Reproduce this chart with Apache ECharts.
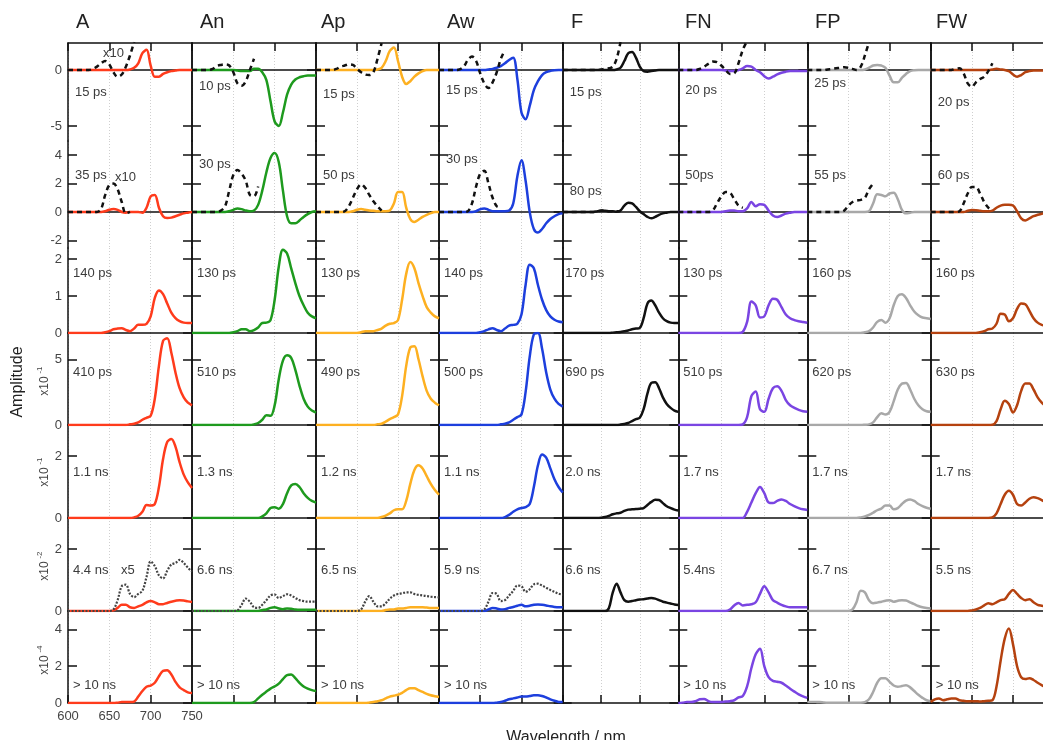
<!DOCTYPE html>
<html><head><meta charset="utf-8">
<script src="https://cdn.jsdelivr.net/npm/echarts@6/dist/echarts.min.js"></script>
<style>html,body{margin:0;padding:0;background:#fff}#c{width:1043px;height:740px}</style>
</head><body><div id="c"></div>
<script>
// ---------------- DATA ----------------
const wavelength = [600,605,610,615,620,625,630,635,640,645,650,655,660,665,670,675,680,685,690,695,700,705,710,715,720,725,730,735,740,745,750];
const panelNames = ['A','An','Ap','Aw','F','FN','FP','FW'];
const xTickLabels = ['600','650','700','750'];
const yTicks = [[-5,0],[-2,0,2,4],[0,1,2],[0,5],[0,2],[0,2],[0,2,4]];
const yScaleExp = [null,null,null,'-1','-1','-2','-4'];

const labelsA  = ['15 ps','35 ps','140 ps','410 ps','1.1 ns','4.4 ns','> 10 ns'];
const labelsAn = ['10 ps','30 ps','130 ps','510 ps','1.3 ns','6.6 ns','> 10 ns'];
const labelsAp = ['15 ps','50 ps','130 ps','490 ps','1.2 ns','6.5 ns','> 10 ns'];
const labelsAw = ['15 ps','30 ps','140 ps','500 ps','1.1 ns','5.9 ns','> 10 ns'];
const labelsF  = ['15 ps','80 ps','170 ps','690 ps','2.0 ns','6.6 ns',''];
const labelsFN = ['20 ps','50ps','130 ps','510 ps','1.7 ns','5.4ns','> 10 ns'];
const labelsFP = ['25 ps','55 ps','160 ps','620 ps','1.7 ns','6.7 ns','> 10 ns'];
const labelsFW = ['20 ps','60 ps','160 ps','630 ps','1.7 ns','5.5 ns','> 10 ns'];

const solidA = [
 [0,0,0,0,0,0,0,0,0,0,0,0,0,0,0,0.05,0.2,0.6,1.5,1.8,0.4,-0.6,-0.6,-0.35,-0.2,-0.1,-0.05,0,0,0,0],
 [0,0,0,0,0,0,0,0,0,0.05,0.15,0.2,0.15,0.0,-0.05,0,0,0,-0.05,0.3,1.1,1.2,0.3,-0.3,-0.42,-0.4,-0.3,-0.2,-0.1,-0.05,0],
 [0,0,0,0,0,0,0,0,0,0.02,0.05,0.1,0.12,0.13,0.08,0.05,0.12,0.22,0.22,0.25,0.45,0.95,1.15,1.05,0.8,0.55,0.4,0.32,0.28,0.27,0.27],
 [0,0,0,0,0,0,0,0,0,0,0,0,0,0,0,0.05,0.1,0.2,0.4,0.55,0.7,2.0,4.5,6.4,6.6,5.5,4.0,2.8,2.1,1.7,1.5],
 [0,0,0,0,0,0,0,0,0,0,0,0,0,0,0,0,0.02,0.07,0.2,0.42,0.4,0.45,1.0,1.9,2.45,2.55,2.3,1.8,1.4,1.15,0.97],
 [0,0,0,0,0,0,0,0,0,0,0,0.02,0.1,0.2,0.2,0.12,0.1,0.15,0.2,0.28,0.32,0.28,0.22,0.22,0.26,0.3,0.33,0.35,0.34,0.31,0.29],
 [0,0,0,0,0,0,0,0,0,0,0,0,0.02,0.05,0.05,0.05,0.08,0.35,0.65,0.88,0.95,1.1,1.45,1.75,1.78,1.55,1.15,0.85,0.7,0.58,0.54]
];
const solidAn = [
 [0,0,0,0,0,0,0,0,0,0,0,-0.05,-0.1,-0.1,-0.1,0.1,0.1,-0.2,-0.9,-2.8,-4.6,-5.0,-3.8,-2.2,-1.3,-0.85,-0.65,-0.55,-0.5,-0.5,-0.5],
 [0,0,0,0,0,0,0,0,0,0.05,0.15,0.25,0.2,0.1,0.05,0.1,0.5,1.5,2.8,3.8,4.15,3.5,1.5,-0.3,-0.8,-0.8,-0.6,-0.35,-0.15,0,0.05],
 [0,0,0,0,0,0,0,0,0,0,0.02,0.05,0.1,0.1,0.05,0.08,0.15,0.27,0.28,0.35,0.9,1.8,2.25,2.15,1.75,1.35,1.0,0.75,0.55,0.45,0.4],
 [0,0,0,0,0,0,0,0,0,0,0,0,0,0,0,0.05,0.15,0.4,0.75,0.7,1.5,3.5,4.9,5.3,5.1,4.2,3.0,2.0,1.4,1.1,0.95],
 [0,0,0,0,0,0,0,0,0,0,0,0,0,0,0,0,0,0.05,0.15,0.32,0.35,0.3,0.45,0.8,1.05,1.1,1.0,0.8,0.65,0.55,0.5],
 [0,0,0,0,0,0,0,0,0,0,0,0,0,0,0,0,0,0.03,0.05,0.1,0.12,0.08,0.06,0.08,0.07,0.05,0.04,0.04,0.04,0.04,0.04],
 [0,0,0,0,0,0,0,0,0,0,0,0,0,0,0,0.05,0.25,0.45,0.62,0.78,0.9,1.05,1.3,1.52,1.55,1.35,1.1,0.9,0.78,0.7,0.65]
];
const solidAp = [
 [0,0,0,0,0,0,0,0,0,0,0,0,0,0,0,0.05,0.2,0.8,1.7,2.0,0.8,-0.6,-1.25,-1.0,-0.6,-0.3,-0.1,0,0,0,0],
 [0,0,0,0,0,0,0,0,0,0.05,0.15,0.2,0.15,0.1,0.08,0.05,0.05,0.05,0.1,0.6,1.4,1.4,0.3,-0.5,-0.7,-0.55,-0.35,-0.2,-0.08,0,0],
 [0,0,0,0,0,0,0,0,0,0,0,0.02,0.05,0.05,0.05,0.08,0.12,0.2,0.25,0.27,0.35,0.9,1.6,1.92,1.75,1.35,1.0,0.7,0.55,0.45,0.4],
 [0,0,0,0,0,0,0,0,0,0,0,0,0,0,0,0.05,0.1,0.25,0.45,0.6,0.8,2.2,4.5,5.9,6.0,5.0,3.7,2.6,2.0,1.7,1.5],
 [0,0,0,0,0,0,0,0,0,0,0,0,0,0,0,0,0.03,0.08,0.15,0.25,0.28,0.28,0.55,1.1,1.55,1.7,1.6,1.35,1.1,0.9,0.75],
 [0,0,0,0,0,0,0,0,0,0,0,0,0,0,0,0,0,0.03,0.05,0.05,0.08,0.08,0.1,0.12,0.12,0.12,0.12,0.11,0.1,0.1,0.1],
 [0,0,0,0,0,0,0,0,0,0,0,0,0,0.02,0.05,0.1,0.15,0.25,0.35,0.4,0.45,0.55,0.7,0.8,0.8,0.7,0.6,0.5,0.42,0.37,0.33]
];
const solidAw = [
 [0,0,0,0,0,0,0,0,0,0,0,0,0.05,0.1,0.2,0.35,0.6,0.9,1.1,-0.8,-3.8,-4.4,-3.2,-1.8,-1.0,-0.45,-0.2,-0.08,-0.02,0,0],
 [0,0,0,0,0,0,0,0,0,0.05,0.2,0.25,0.15,0.05,0.05,0.05,0.05,0.1,0.6,2.5,3.65,2.2,0.0,-1.2,-1.45,-1.2,-0.8,-0.5,-0.3,-0.15,-0.1],
 [0,0,0,0,0,0,0,0,0,0,0.02,0.05,0.1,0.13,0.08,0.05,0.12,0.2,0.22,0.25,0.5,1.3,1.85,1.75,1.3,0.9,0.62,0.45,0.36,0.31,0.29],
 [0,0,0,0,0,0,0,0,0,0,0,0,0,0,0,0.05,0.1,0.2,0.4,0.6,0.8,2.5,5.2,6.9,7.0,5.8,4.0,2.7,2.0,1.6,1.4],
 [0,0,0,0,0,0,0,0,0,0,0,0,0,0,0,0,0.03,0.1,0.2,0.28,0.32,0.35,0.45,1.0,1.7,2.05,1.95,1.6,1.25,1.0,0.82],
 [0,0,0,0,0,0,0,0,0,0,0,0,0.05,0.1,0.08,0.05,0.06,0.1,0.13,0.17,0.2,0.15,0.17,0.2,0.21,0.2,0.18,0.15,0.13,0.12,0.12],
 [0,0,0,0,0,0,0,0,0,0,0,0,0,0,0.02,0.05,0.12,0.2,0.25,0.3,0.35,0.35,0.38,0.42,0.42,0.38,0.3,0.2,0.12,0.06,0.05]
];
const solidF = [
 [0,0,0,0,0,0,0,0,0,0,0,0,0,0,0.05,0.2,0.8,1.5,1.6,1.1,0.3,-0.1,-0.15,-0.1,-0.05,0,0,0,0,0,0],
 [0,0,0,0,0,0,0,0,0,0.05,0.08,0.08,0.05,0.05,0.02,0.1,0.45,0.65,0.6,0.35,0.05,-0.15,-0.35,-0.45,-0.35,-0.2,-0.1,-0.05,0,0,0],
 [0,0,0,0,0,0,0,0,0,0,0,0,0,0.01,0.02,0.03,0.05,0.07,0.1,0.12,0.14,0.4,0.8,0.88,0.75,0.55,0.4,0.32,0.28,0.27,0.27],
 [0,0,0,0,0,0,0,0,0,0,0,0,0,0,0,0.03,0.08,0.15,0.3,0.45,0.55,1.2,2.4,3.2,3.25,2.8,2.1,1.6,1.3,1.1,1.0],
 [0,0,0,0,0,0,0,0,0,0,0.01,0.03,0.07,0.12,0.15,0.17,0.23,0.27,0.28,0.29,0.3,0.32,0.42,0.52,0.59,0.58,0.48,0.38,0.32,0.27,0.24],
 [0,0,0,0,0,0,0,0,0,0,0,0,0.1,0.6,0.88,0.6,0.35,0.3,0.32,0.35,0.37,0.38,0.4,0.42,0.4,0.35,0.3,0.27,0.24,0.21,0.19],
 []
];
const solidFN = [
 [0,0,0,0,0,0,0,0,0,0,0,-0.05,-0.1,-0.1,0.0,0.15,0.35,0.3,0.0,-0.2,-0.55,-0.75,-0.6,-0.4,-0.25,-0.15,-0.1,-0.1,-0.1,-0.1,-0.1],
 [0,0,0,0,0,0,0,0,0,0,0,0.05,0.1,0.1,0.05,0.05,0.25,0.7,0.4,0.55,0.5,0.1,-0.25,-0.35,-0.25,-0.12,-0.05,0,0,0,0],
 [0,0,0,0,0,0,0,0,0,0,0,0,0,0,0,0.03,0.3,0.85,0.75,0.42,0.45,0.75,0.93,0.9,0.7,0.5,0.4,0.35,0.32,0.3,0.28],
 [0,0,0,0,0,0,0,0,0,0,0,0,0,0,0,0.05,0.6,2.2,2.55,1.2,1.0,2.0,2.8,2.95,2.6,1.9,1.5,1.3,1.15,1.05,1.0],
 [0,0,0,0,0,0,0,0,0,0,0,0,0,0,0,0,0.2,0.5,0.8,1.0,0.8,0.5,0.48,0.55,0.6,0.55,0.45,0.38,0.32,0.28,0.26],
 [0,0,0,0,0,0,0,0,0,0,0,0,0.05,0.18,0.26,0.18,0.2,0.22,0.28,0.55,0.8,0.6,0.35,0.27,0.2,0.15,0.12,0.12,0.12,0.12,0.12],
 [0,0.02,0.05,0.05,0.1,0.2,0.22,0.1,0.05,0.05,0.05,0.08,0.1,0.15,0.3,0.38,0.9,1.9,2.65,2.95,2.0,1.4,1.2,1.15,1.1,0.95,0.78,0.62,0.47,0.36,0.28]
];
const solidFP = [
 [0,0,0,0,0,0,0,0,0,0,0,0,0,0,0.05,0.2,0.4,0.45,0.4,0.2,-0.5,-1.1,-1.1,-0.7,-0.35,-0.1,-0.02,0,0,0,0],
 [0,0,0,0,0,0,0,0,0,0,0,0,0,0,0,0.05,0.6,1.25,1.2,1.1,1.3,1.35,0.9,0.15,-0.1,-0.05,0,0,0,0,0],
 [0,0,0,0,0,0,0,0,0,0,0,0,0,0,0.02,0.05,0.15,0.3,0.35,0.28,0.4,0.75,1.0,1.05,0.95,0.75,0.58,0.48,0.42,0.4,0.38],
 [0,0,0,0,0,0,0,0,0,0,0,0,0,0,0.02,0.05,0.2,0.6,0.9,0.8,1.0,1.8,2.7,3.15,3.2,2.7,2.0,1.5,1.2,1.05,1.0],
 [0,0,0,0,0,0,0,0,0,0,0,0,0,0.02,0.05,0.1,0.17,0.25,0.3,0.4,0.4,0.28,0.32,0.45,0.56,0.6,0.55,0.45,0.38,0.33,0.3],
 [0,0,0,0,0,0,0,0,0,0,0,0.05,0.3,0.65,0.6,0.35,0.25,0.27,0.3,0.33,0.35,0.3,0.33,0.35,0.34,0.28,0.22,0.16,0.12,0.1,0.08],
 [0.05,0.05,0.05,0.05,0.03,0.02,0.02,0.02,0.02,0.02,0.02,0.02,0.02,0.02,0.05,0.2,0.6,1.1,1.35,1.35,1.15,0.95,0.88,0.92,0.97,0.85,0.65,0.45,0.28,0.15,0.1]
];
const solidFW = [
 [0,0,0,0,0,0,0,0,0,0,0,0,0,0,0,0.05,0.1,0.05,0,-0.1,-0.4,-0.6,-0.45,-0.2,-0.1,-0.05,-0.05,-0.05,-0.05,-0.05,-0.05],
 [0,0,0,0,0,0,0,0,0,0.08,0.14,0.12,0.08,0.05,0.05,0.1,0.3,0.45,0.5,0.5,0.45,0.05,-0.45,-0.6,-0.45,-0.3,-0.2,-0.12,-0.08,-0.05,-0.03],
 [0,0,0,0,0,0,0,0,0,0,0,0,0.02,0.05,0.1,0.12,0.25,0.52,0.5,0.32,0.4,0.65,0.8,0.78,0.6,0.4,0.28,0.22,0.19,0.17,0.16],
 [0,0,0,0,0,0,0,0,0,0,0,0,0,0,0,0.02,0.3,1.2,1.85,1.6,0.95,1.5,2.6,3.15,3.15,2.7,2.1,1.7,1.45,1.3,1.2],
 [0,0,0,0,0,0,0,0,0,0,0,0,0,0,0,0.02,0.15,0.45,0.75,0.88,0.75,0.45,0.4,0.5,0.62,0.67,0.64,0.58,0.5,0.42,0.35],
 [0,0,0,0,0,0,0,0,0,0,0.02,0.05,0.1,0.18,0.25,0.22,0.28,0.35,0.38,0.55,0.68,0.55,0.42,0.35,0.38,0.28,0.2,0.17,0.15,0.12,0.1],
 [0.05,0.2,0.25,0.15,0.2,0.25,0.25,0.15,0.12,0.1,0.1,0.1,0.08,0.1,0.12,0.15,0.9,2.3,3.5,4.05,3.2,2.0,1.4,1.3,1.35,1.25,1.1,0.97,0.85,0.75,0.65]
];

// dashed (x10) early-time curves, rows 1 and 2 (start at 600 nm)
const dashA  = [[0,0,0,0,0,0,0.1,0.3,0.6,0.8,0.5,-0.2,-0.6,-0.4,0.3,1.3,2.5],
                [0,0,0,0,0,0,0,0,0.2,1.2,1.9,2.0,1.6,0.7,-0.1,0]];
const dashAn = [[0,0,0,0,0,0.1,0.35,0.45,0.5,0.4,-0.2,-1.2,-1.4,-1.0,0.0,1.0],
                [0,0,0,0,0,0,0,0.1,0.4,1.5,2.6,2.95,2.7,2.2,1.2,1.1,1.8]];
const dashAp = [[0,0,0,0,0,0.1,0.3,0.4,0.5,0.45,0.1,-0.2,-0.4,-0.45,-0.2,1.0,2.4],
                [0,0,0,0,0,0,0,0.05,0.4,1.0,1.6,1.95,1.7,1.2,0.75,0.4,0.1]];
const dashAw = [[0,0,0,0,0,0.05,0.3,0.9,1.2,0.8,-0.3,-1.2,-1.6,-1.1,-0.2,1.0,1.8],
                [0,0,0,0,0,0,0,0.05,0.6,1.8,2.7,2.9,2.0,1.0,0.4,0.3]];
const dashF  = [[0,0,0,0,0,0,0,0,0,0,0.05,0.1,0.15,0.3,1.0,2.5],
                [0,0,0,0,0,0,0,0,0,0.05,0.1,0.1,0.05,0.05,0.05,0.05]];
const dashFN = [[0,0,0,0,0,0.1,0.3,0.55,0.75,0.7,0.4,0.0,-0.35,-0.3,0.6,1.8,2.6],
                [0,0,0,0,0,0,0,0,0.1,0.6,1.1,1.4,1.35,0.9,0.45,0.3]];
const dashFP = [[0,0,0,0,0,0.05,0.1,0.15,0.2,0.25,0.2,0.1,0.0,0.3,1.3,2.5],
                [0,0,0,0,0,0,0,0,0,0.1,0.45,0.7,0.8,0.85,1.0,1.6,2.0]];
const dashFW = [[0,0,0,0,0,0,0.1,0.15,-0.3,-1.2,-1.5,-1.1,-0.8,-0.6,-0.1,0.6],
                [0,0,0,0,0,0,0,0.05,0.6,1.3,1.75,1.75,1.3,0.7,0.3,0.1]];

// dotted (x5) curves in row 6
const dotA  = [0,0,0,0,0,0,0,0,0,0,0,0.05,0.35,0.8,0.85,0.55,0.45,0.55,0.65,1.1,1.6,1.45,1.15,1.05,1.3,1.5,1.55,1.65,1.55,1.4,1.27];
const dotAn = [0,0,0,0,0,0,0,0,0,0,0,0.02,0.2,0.4,0.3,0.12,0.1,0.2,0.35,0.5,0.53,0.42,0.48,0.54,0.5,0.42,0.35,0.32,0.3,0.3,0.3];
const dotAp = [0,0,0,0,0,0,0,0,0,0,0,0.05,0.3,0.48,0.3,0.15,0.15,0.25,0.4,0.5,0.55,0.57,0.6,0.6,0.55,0.52,0.5,0.48,0.46,0.45,0.44];
const dotAw = [0,0,0,0,0,0,0,0,0,0,0,0.05,0.3,0.58,0.55,0.32,0.35,0.5,0.65,0.82,0.8,0.62,0.7,0.86,0.88,0.82,0.75,0.68,0.62,0.56,0.53];

// ---------------- LAYOUT / STYLE ----------------
const solids = [solidA, solidAn, solidAp, solidAw, solidF, solidFN, solidFP, solidFW];
const dashes = [dashA, dashAn, dashAp, dashAw, dashF, dashFN, dashFP, dashFW];
const dots = [dotA, dotAn, dotAp, dotAw, null, null, null, null];
const labels = [labelsA, labelsAn, labelsAp, labelsAw, labelsF, labelsFN, labelsFP, labelsFW];
const colors = ['#ff3b1c','#1e9a1e','#fdb021','#1d3fdd','#111111','#7a45e2','#a8a8a8','#b5420f'];

const colLeft  = [68,192,316,439,562.7,678.3,807.3,930.7];
const colRight = [192,316,439,562.7,678.3,807.3,930.7,1054.1];
const rowTop    = [43,141,248,333,425,518,611];
const rowBottom = [141,248,333,425,518,611,703];
const yMin = [-6.34,-2.54,0,0,0,0,0];
const yMax = [2.41,5.0,2.3,7,3,3,5];
const titleX = [76,200,321,447,571,685,815,936];
const row1LabelY = [92,86,94,90,92,90,83,102];
const row2LabelY = [175,164,175,159,191,175,175,175];
const rowLabelY = [null,null,273,372,472,570,685];
const FONT = '"Liberation Sans", Arial, Helvetica, sans-serif';

const grids = [], xAxes = [], yAxes = [], series = [], graphics = [];
const NC = 8, NR = 7;
for (let r = 0; r < NR; r++) {
  for (let c = 0; c < NC; c++) {
    const g = r * NC + c;
    grids.push({left: colLeft[c], top: rowTop[r], width: colRight[c] - colLeft[c], height: rowBottom[r] - rowTop[r],
      containLabel: false, outerBoundsMode: 'none'});
    xAxes.push({
      gridIndex: g, type: 'value', min: 600, max: 750, interval: 50, position: 'bottom',
      axisLine: {show: true, onZero: true, lineStyle: {color: '#111', width: 1.5}},
      axisTick: {show: r === NR - 1, inside: true, length: 8, lineStyle: {color: '#111', width: 1.5}},
      axisLabel: {show: r === NR - 1 && c === 0, fontSize: 13, color: '#444', margin: 7, fontFamily: FONT,
                  formatter: v => xTickLabels[(v - 600) / 50]},
      splitLine: {show: true, lineStyle: {color: '#cfcfcf', type: [1, 2], width: 1}}
    });
    const yBase = {
      gridIndex: g, type: 'value', min: yMin[r], max: yMax[r],
      axisLine: {show: true, onZero: false, lineStyle: {color: '#111', width: 1.5}},
      axisTick: {show: true, inside: true, length: 9, customValues: yTicks[r], lineStyle: {color: '#111', width: 1.5}},
      splitLine: {show: false}
    };
    yAxes.push(Object.assign({}, yBase, {position: 'left',
      axisLabel: {show: c === 0, customValues: yTicks[r], fontSize: 13, color: '#444', margin: 6, fontFamily: FONT}}));
    yAxes.push(Object.assign({}, yBase, {position: 'right', axisLabel: {show: false}}));
  }
}
// top frame axes for first row
for (let c = 0; c < NC; c++) {
  xAxes.push({gridIndex: c, type: 'value', min: 600, max: 750, interval: 50, position: 'top',
    axisLine: {show: true, onZero: false, lineStyle: {color: '#111', width: 1.5}},
    axisTick: {show: true, inside: true, length: 8, lineStyle: {color: '#111', width: 1.5}},
    axisLabel: {show: false}, splitLine: {show: false}});
}

const pairs = vals => vals.map((v, i) => [wavelength[i], v]);
for (let r = 0; r < NR; r++) {
  for (let c = 0; c < NC; c++) {
    const g = r * NC + c;
    const vals = solids[c][r];
    if (vals && vals.length) {
      series.push({type: 'line', xAxisIndex: g, yAxisIndex: 2 * g, data: pairs(vals), smooth: 0.35,
        showSymbol: false, silent: true, z: 3, lineStyle: {color: colors[c], width: 2.5}});
    }
    if (r < 2) {
      series.push({type: 'line', xAxisIndex: g, yAxisIndex: 2 * g, data: pairs(dashes[c][r]), smooth: 0.35,
        showSymbol: false, silent: true, z: 4, lineStyle: {color: '#111', width: 2.5, type: [5, 4]}});
    }
    if (r === 5 && dots[c]) {
      series.push({type: 'line', xAxisIndex: g, yAxisIndex: 2 * g, data: pairs(dots[c]), smooth: 0.35,
        showSymbol: false, silent: true, z: 4, lineStyle: {color: '#444', width: 2.2, type: [2, 1.5]}});
    }
    // lifetime labels
    const txt = labels[c][r];
    if (txt) {
      let y, x;
      if (r === 0) { y = row1LabelY[c]; x = colLeft[c] + 7; }
      else if (r === 1) { y = row2LabelY[c]; x = colLeft[c] + 7; }
      else { y = rowLabelY[r]; x = colLeft[c] + (c === 4 ? 2.5 : 5); }
      graphics.push({type: 'text', x: x, y: y, z: 10,
        style: {text: txt, fontSize: 13, fill: '#3c3c3c', fontFamily: FONT, verticalAlign: 'middle', align: 'left'}});
    }
  }
}
// column titles
panelNames.forEach((n, c) => graphics.push({type: 'text', x: titleX[c], y: 22,
  style: {text: n, fontSize: 20, fill: '#222', fontFamily: FONT, verticalAlign: 'middle', align: 'left'}}));
// scale annotations
[['x10', 103, 53], ['x10', 115, 177], ['x5', 121, 570]].forEach(a => graphics.push({type: 'text', x: a[1], y: a[2], z: 10,
  style: {text: a[0], fontSize: 13, fill: '#3c3c3c', fontFamily: FONT, verticalAlign: 'middle', align: 'left'}}));
// y-axis multipliers
const expCenter = [null,null,null,381,472,566,660];
for (let r = 0; r < NR; r++) {
  if (!yScaleExp[r]) continue;
  graphics.push({type: 'text', x: 45, y: expCenter[r] + 5, rotation: Math.PI / 2,
    style: {text: 'x10', fontSize: 12, fill: '#444', fontFamily: FONT, align: 'center', verticalAlign: 'middle'}});
  graphics.push({type: 'text', x: 40, y: expCenter[r] - 11, rotation: Math.PI / 2,
    style: {text: yScaleExp[r], fontSize: 8, fill: '#444', fontFamily: FONT, align: 'center', verticalAlign: 'middle'}});
}
graphics.push({type: 'text', x: 18, y: 382, rotation: Math.PI / 2,
  style: {text: 'Amplitude', fontSize: 16, fill: '#222', fontFamily: FONT, align: 'center', verticalAlign: 'middle'}});
graphics.push({type: 'text', x: 566, y: 738,
  style: {text: 'Wavelength / nm', fontSize: 16, fill: '#222', fontFamily: FONT, align: 'center', verticalAlign: 'middle'}});

const chart = echarts.init(document.getElementById('c'), null, {renderer: 'canvas'});
chart.setOption({animation: false, backgroundColor: '#fff', grid: grids, xAxis: xAxes, yAxis: yAxes, series: series, graphic: graphics});
</script></body></html>
